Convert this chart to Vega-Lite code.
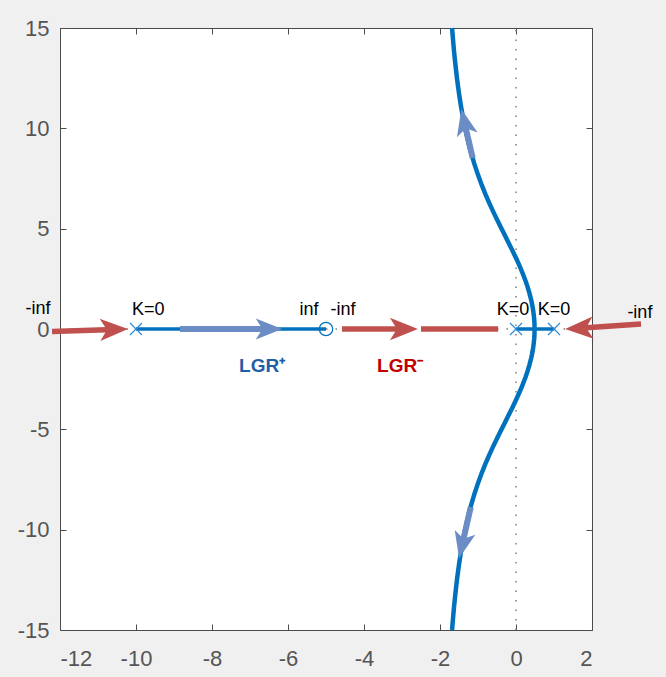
{
  "$schema": "https://vega.github.io/schema/vega-lite/v6.json",
  "width": 532,
  "height": 602,
  "autosize": {"type": "none"},
  "padding": {"left": 60, "top": 28, "right": 74, "bottom": 47},
  "background": "#f0f0f0",
  "config": {
    "view": {"fill": "white", "stroke": "#4a4a4a", "strokeWidth": 1},
    "font": "Liberation Sans",
    "axis": {
      "domain": false,
      "grid": false,
      "labelFont": "Liberation Sans",
      "labelFontSize": 22,
      "labelColor": "#555555",
      "tickColor": "#4d4d4d",
      "tickWidth": 1
    }
  },
  "datasets": {
    "dotV": [{"x": 0, "y": -15, "y2": 15}],
    "dotH": [{"x": -12, "x2": 2, "y": 0}],
    "locus": [
      {"x": -1.682, "y": 15}, {"x": -1.66, "y": 14.47}, {"x": -1.63, "y": 13.833}, {"x": -1.6, "y": 13.264},
      {"x": -1.55, "y": 12.44}, {"x": -1.5, "y": 11.737}, {"x": -1.45, "y": 11.125}, {"x": -1.4, "y": 10.585},
      {"x": -1.35, "y": 10.1}, {"x": -1.3, "y": 9.667}, {"x": -1.25, "y": 9.27}, {"x": -1.2, "y": 8.906},
      {"x": -1.1, "y": 8.254}, {"x": -1.0, "y": 7.681}, {"x": -0.9, "y": 7.168}, {"x": -0.8, "y": 6.698},
      {"x": -0.7, "y": 6.261}, {"x": -0.6, "y": 5.849}, {"x": -0.5, "y": 5.454}, {"x": -0.4, "y": 5.071},
      {"x": -0.3, "y": 4.693}, {"x": -0.2, "y": 4.316}, {"x": -0.1, "y": 3.932}, {"x": 0, "y": 3.536},
      {"x": 0.05, "y": 3.329}, {"x": 0.1, "y": 3.115}, {"x": 0.15, "y": 2.892}, {"x": 0.2, "y": 2.655},
      {"x": 0.25, "y": 2.402}, {"x": 0.3, "y": 2.126}, {"x": 0.35, "y": 1.815}, {"x": 0.4, "y": 1.446},
      {"x": 0.42, "y": 1.271}, {"x": 0.45, "y": 0.954}, {"x": 0.47, "y": 0.666}, {"x": 0.48, "y": 0.46},
      {"x": 0.485, "y": 0.31}, {"x": 0.489, "y": 0},
      {"x": 0.485, "y": -0.31}, {"x": 0.48, "y": -0.46}, {"x": 0.47, "y": -0.666}, {"x": 0.45, "y": -0.954},
      {"x": 0.42, "y": -1.271}, {"x": 0.4, "y": -1.446}, {"x": 0.35, "y": -1.815}, {"x": 0.3, "y": -2.126},
      {"x": 0.25, "y": -2.402}, {"x": 0.2, "y": -2.655}, {"x": 0.15, "y": -2.892}, {"x": 0.1, "y": -3.115},
      {"x": 0.05, "y": -3.329}, {"x": 0, "y": -3.536}, {"x": -0.1, "y": -3.932}, {"x": -0.2, "y": -4.316},
      {"x": -0.3, "y": -4.693}, {"x": -0.4, "y": -5.071}, {"x": -0.5, "y": -5.454}, {"x": -0.6, "y": -5.849},
      {"x": -0.7, "y": -6.261}, {"x": -0.8, "y": -6.698}, {"x": -0.9, "y": -7.168}, {"x": -1.0, "y": -7.681},
      {"x": -1.1, "y": -8.254}, {"x": -1.2, "y": -8.906}, {"x": -1.25, "y": -9.27}, {"x": -1.3, "y": -9.667},
      {"x": -1.35, "y": -10.1}, {"x": -1.4, "y": -10.585}, {"x": -1.45, "y": -11.125}, {"x": -1.5, "y": -11.737},
      {"x": -1.55, "y": -12.44}, {"x": -1.6, "y": -13.264}, {"x": -1.63, "y": -13.833}, {"x": -1.66, "y": -14.47},
      {"x": -1.682, "y": -15}
    ],
    "blueSeg": [{"x": -10, "x2": -5, "y": 0}, {"x": 0, "x2": 1, "y": 0}],
    "blueShaft": [
      {"x": -8.84, "y": 0, "x2": -6.5, "y2": 0},
      {"x": -1.14, "y": 8.52, "x2": -1.36, "y2": 10.32},
      {"x": -1.19, "y": -8.87, "x2": -1.42, "y2": -10.78}
    ],
    "blueHead": [
      {"x": -6.5, "y": 0, "angle": 0},
      {"x": -1.36, "y": 10.32, "angle": 257},
      {"x": -1.42, "y": -10.78, "angle": 103}
    ],
    "redShaft": [
      {"x": -12.21, "y": -0.12, "x2": -10.58, "y2": -0.02},
      {"x": -4.58, "y": 0, "x2": -2.95, "y2": 0},
      {"x": -2.5, "y": 0, "x2": -0.47, "y2": 0},
      {"x": 3.29, "y": 0.25, "x2": 1.66, "y2": 0.035}
    ],
    "redHead": [
      {"x": -10.58, "y": -0.02, "angle": 358},
      {"x": -2.95, "y": 0, "angle": 0},
      {"x": 1.66, "y": 0.035, "angle": 177}
    ],
    "poles": [{"x": -10, "y": 0}, {"x": 0, "y": 0}, {"x": 1, "y": 0}],
    "zeros": [{"x": -5, "y": 0}],
    "labels": [
      {"x": -12.58, "y": 1.0, "t": "-inf"},
      {"x": -9.68, "y": 0.95, "t": "K=0"},
      {"x": -5.45, "y": 0.95, "t": "inf"},
      {"x": -4.55, "y": 0.95, "t": "-inf"},
      {"x": -0.08, "y": 0.95, "t": "K=0"},
      {"x": 1.0, "y": 0.95, "t": "K=0"},
      {"x": 3.26, "y": 0.8, "t": "-inf"}
    ],
    "lgr": [
      {"x": -6.68, "y": -1.84, "t": "LGR⁺", "g": "plus"},
      {"x": -3.05, "y": -1.84, "t": "LGR⁻", "g": "minus"}
    ]
  },
  "encoding": {
    "x": {"field": "x", "type": "quantitative", "scale": {"domain": [-12, 2], "nice": false, "zero": false}, "axis": null},
    "y": {"field": "y", "type": "quantitative", "scale": {"domain": [-15, 15], "nice": false, "zero": false}, "axis": null}
  },
  "layer": [
    {
      "data": {"name": "dotV"},
      "mark": {"type": "rule", "color": "#808080", "strokeWidth": 1.5, "strokeDash": [1.5, 8]},
      "encoding": {
        "x": {"field": "x", "type": "quantitative", "scale": {"domain": [-12, 2], "nice": false, "zero": false},
          "axis": {"orient": "bottom", "values": [-12, -10, -8, -6, -4, -2, 0, 2], "tickSize": -6, "labelPadding": 24, "labelExpr": "'' + datum.value", "title": null}},
        "y": {"field": "y", "type": "quantitative", "scale": {"domain": [-15, 15], "nice": false, "zero": false},
          "axis": {"orient": "left", "values": [-15, -10, -5, 0, 5, 10, 15], "tickSize": -6, "labelPadding": 17, "labelExpr": "'' + datum.value", "title": null}},
        "y2": {"field": "y2"}
      }
    },
    {
      "data": {"name": "dotH"},
      "mark": {"type": "rule", "color": "#808080", "strokeWidth": 1.5, "strokeDash": [1.5, 8]},
      "encoding": {
        "x": {"field": "x", "type": "quantitative", "scale": {"domain": [-12, 2], "nice": false, "zero": false},
          "axis": {"orient": "top", "values": [-12, -10, -8, -6, -4, -2, 0, 2], "tickSize": -6, "labels": false, "title": null}},
        "x2": {"field": "x2"},
        "y": {"field": "y", "type": "quantitative", "scale": {"domain": [-15, 15], "nice": false, "zero": false},
          "axis": {"orient": "right", "values": [-15, -10, -5, 0, 5, 10, 15], "tickSize": -6, "labels": false, "title": null}}
      }
    },
    {
      "data": {"name": "locus"},
      "mark": {"type": "line", "color": "#0072BD", "strokeWidth": 4.5, "strokeCap": "butt"},
      "encoding": {"order": {"field": "y", "type": "quantitative"}}
    },
    {
      "data": {"name": "blueSeg"},
      "mark": {"type": "rule", "color": "#0072BD", "strokeWidth": 3.5},
      "encoding": {"x2": {"field": "x2"}}
    },
    {
      "data": {"name": "blueShaft"},
      "mark": {"type": "rule", "color": "#6b8cc4", "strokeWidth": 6},
      "encoding": {"x2": {"field": "x2"}, "y2": {"field": "y2"}}
    },
    {
      "data": {"name": "blueHead"},
      "mark": {"type": "point", "shape": "M1,0L-1,-0.8L-0.5,0L-1,0.8Z", "filled": true, "color": "#6b8cc4", "opacity": 1, "size": 700},
      "encoding": {"angle": {"field": "angle", "type": "quantitative", "scale": null}}
    },
    {
      "data": {"name": "redShaft"},
      "mark": {"type": "rule", "color": "#c0504d", "strokeWidth": 5.5},
      "encoding": {"x2": {"field": "x2"}, "y2": {"field": "y2"}}
    },
    {
      "data": {"name": "redHead"},
      "mark": {"type": "point", "shape": "M1,0L-1,-0.8L-0.5,0L-1,0.8Z", "filled": true, "color": "#c0504d", "opacity": 1, "size": 784},
      "encoding": {"angle": {"field": "angle", "type": "quantitative", "scale": null}}
    },
    {
      "data": {"name": "poles"},
      "mark": {"type": "point", "shape": "M-1,-1L1,1M-1,1L1,-1", "filled": false, "color": "#2f8ad6", "strokeWidth": 1.2, "opacity": 1, "size": 144}
    },
    {
      "data": {"name": "zeros"},
      "mark": {"type": "point", "shape": "circle", "filled": false, "color": "#0072BD", "strokeWidth": 1.2, "opacity": 1, "size": 180}
    },
    {
      "data": {"name": "labels"},
      "mark": {"type": "text", "font": "Liberation Sans", "fontSize": 18, "color": "#000000", "align": "center", "baseline": "middle"},
      "encoding": {"text": {"field": "t"}}
    },
    {
      "data": {"name": "lgr"},
      "mark": {"type": "text", "font": "Liberation Sans", "fontSize": 19, "fontWeight": "bold", "align": "center", "baseline": "middle"},
      "encoding": {
        "text": {"field": "t"},
        "color": {"field": "g", "type": "nominal", "scale": {"domain": ["plus", "minus"], "range": ["#1f5fa8", "#c00000"]}, "legend": null}
      }
    }
  ],
  "resolve": {"axis": {"x": "independent", "y": "independent"}}
}
